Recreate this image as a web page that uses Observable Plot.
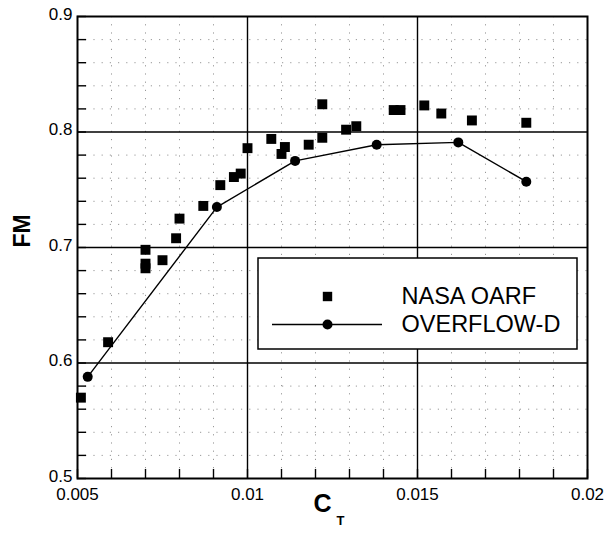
<!DOCTYPE html>
<html>
<head>
<meta charset="utf-8">
<script src="https://cdn.jsdelivr.net/npm/d3@7"></script>
<script src="https://cdn.jsdelivr.net/npm/@observablehq/plot@0.6"></script>
<style>
  html, body { margin: 0; padding: 0; background: #fff; }
  #chart svg { display: block; }
</style>
</head>
<body>
<div id="chart"></div>
<script>
// Figure of merit vs thrust coefficient: measured (NASA OARF) and computed (OVERFLOW-D)

// NASA OARF measurements
const nasaCT = [0.0051, 0.0059, 0.0070, 0.0070, 0.0070, 0.0075, 0.0079, 0.0080, 0.0087,
                0.0092, 0.0096, 0.0098, 0.0100, 0.0107, 0.0110, 0.0111, 0.0118, 0.0122,
                0.0122, 0.0129, 0.0132, 0.0143, 0.0145, 0.0152, 0.0157, 0.0166, 0.0182];
const nasaFM = [0.570, 0.618, 0.698, 0.686, 0.682, 0.689, 0.708, 0.725, 0.736,
                0.754, 0.761, 0.764, 0.786, 0.794, 0.781, 0.787, 0.789, 0.795,
                0.824, 0.802, 0.805, 0.819, 0.819, 0.823, 0.816, 0.810, 0.808];

// OVERFLOW-D predictions
const overCT = [0.0053, 0.0091, 0.0114, 0.0138, 0.0162, 0.0182];
const overFM = [0.588, 0.735, 0.775, 0.789, 0.791, 0.757];

// Axis ticks and labels
const xTickValues = [0.005, 0.01, 0.015, 0.02];
const xTickLabels = ["0.005", "0.01", "0.015", "0.02"];
const yTickValues = [0.5, 0.6, 0.7, 0.8, 0.9];
const yTickLabels = ["0.5", "0.6", "0.7", "0.8", "0.9"];
const xMinor = [0.006, 0.007, 0.008, 0.009, 0.011, 0.012, 0.013, 0.014, 0.016, 0.017, 0.018, 0.019];
const yMinor = [0.52, 0.54, 0.56, 0.58, 0.62, 0.64, 0.66, 0.68, 0.72, 0.74, 0.76, 0.78, 0.82, 0.84, 0.86, 0.88];

// Legend entries
const seriesNames = ["NASA OARF", "OVERFLOW-D"];

const nasa = nasaCT.map((ct, i) => ({ct, fm: nasaFM[i]}));
const overflow = overCT.map((ct, i) => ({ct, fm: overFM[i]}));

const W = 608, H = 534;
const mL = 77, mR = 21, mT = 16, mB = 56;
const xDomain = [0.005, 0.02], yDomain = [0.5, 0.9];
// data units per pixel, used for inward tick length and legend layout
const kx = (xDomain[1] - xDomain[0]) / (W - mL - mR);
const ky = (yDomain[1] - yDomain[0]) / (H - mT - mB);
const px = p => xDomain[0] + (p - mL) * kx;   // pixel column -> CT
const py = p => yDomain[1] - (p - mT) * ky;   // pixel row -> FM
const tickLen = 9;

// legend box geometry
const lgLeft = px(258), lgRight = px(577), lgTop = py(258), lgBottom = py(349);
const lgKeyX = px(327), lgLine1 = px(272), lgLine2 = px(382), lgTextX = px(401);
const lgRow1 = py(296), lgRow2 = py(324);

const allYTicks = yTickValues.concat(yMinor);
const allXTicks = xTickValues.concat(xMinor);

const chart = Plot.plot({
  width: W, height: H,
  marginLeft: mL, marginRight: mR, marginTop: mT, marginBottom: mB,
  style: {fontFamily: "'Liberation Sans', Arial, Helvetica, sans-serif", background: "#fff", color: "#000"},
  x: {domain: xDomain},
  y: {domain: yDomain},
  marks: [
    // dotted minor grid
    Plot.ruleX(xMinor, {stroke: "#555", strokeWidth: 1, strokeDasharray: "1.2 7", strokeOpacity: 0.6}),
    Plot.ruleY(yMinor, {stroke: "#555", strokeWidth: 1, strokeDasharray: "1.2 7", strokeOpacity: 0.6}),
    // solid major grid
    Plot.ruleX([0.01, 0.015], {stroke: "#000", strokeWidth: 1.4}),
    Plot.ruleY([0.6, 0.7, 0.8], {stroke: "#000", strokeWidth: 1.4}),
    // inward ticks on left and bottom edges
    Plot.ruleY(allYTicks, {x1: xDomain[0], x2: xDomain[0] + tickLen * kx, stroke: "#000", strokeWidth: 1.4}),
    Plot.ruleX(allXTicks, {y1: yDomain[0], y2: yDomain[0] + tickLen * ky, stroke: "#000", strokeWidth: 1.4}),
    Plot.frame({stroke: "#000", strokeWidth: 2}),
    Plot.axisX({
      ticks: xTickValues, tickSize: 0, tickPadding: 9, fontSize: 17, label: null,
      tickFormat: d => xTickLabels[xTickValues.indexOf(d)]
    }),
    Plot.axisY({
      ticks: yTickValues, tickSize: 0, tickPadding: 5, fontSize: 17, label: null, dy: -2,
      tickFormat: d => yTickLabels[yTickValues.indexOf(d)]
    }),
    // axis titles
    Plot.text(["FM"], {frameAnchor: "left", dx: -55, rotate: -90, fontSize: 23, fontWeight: "bold", fill: "#000"}),
    Plot.text(["C"], {frameAnchor: "bottom", dx: -10, dy: 33, fontSize: 25, fontWeight: "bold", fill: "#000"}),
    Plot.text(["T"], {frameAnchor: "bottom", dx: 8, dy: 46, fontSize: 13, fontWeight: "bold", fill: "#000"}),
    // OVERFLOW-D curve
    Plot.line(overflow, {x: "ct", y: "fm", stroke: "#000", strokeWidth: 1.4}),
    Plot.dot(overflow, {x: "ct", y: "fm", r: 5, fill: "#000", stroke: "none"}),
    // NASA OARF measurements
    Plot.dot(nasa, {x: "ct", y: "fm", symbol: "square", r: 5.6, fill: "#000", stroke: "none"}),
    // legend
    Plot.rect([0], {x1: lgLeft, x2: lgRight, y1: lgBottom, y2: lgTop, fill: "#fff", stroke: "#000", strokeWidth: 1.5}),
    Plot.dot([0], {x: lgKeyX, y: lgRow1, symbol: "square", r: 5.3, fill: "#000", stroke: "none"}),
    Plot.ruleY([lgRow2], {x1: lgLine1, x2: lgLine2, stroke: "#000", strokeWidth: 1.4}),
    Plot.dot([0], {x: lgKeyX, y: lgRow2, r: 5, fill: "#000", stroke: "none"}),
    Plot.text([seriesNames[0]], {x: lgTextX, y: lgRow1, textAnchor: "start", fontSize: 23.5, fill: "#000"}),
    Plot.text([seriesNames[1]], {x: lgTextX, y: lgRow2, textAnchor: "start", fontSize: 23.5, fill: "#000"})
  ]
});

document.getElementById("chart").appendChild(chart);
</script>
</body>
</html>
